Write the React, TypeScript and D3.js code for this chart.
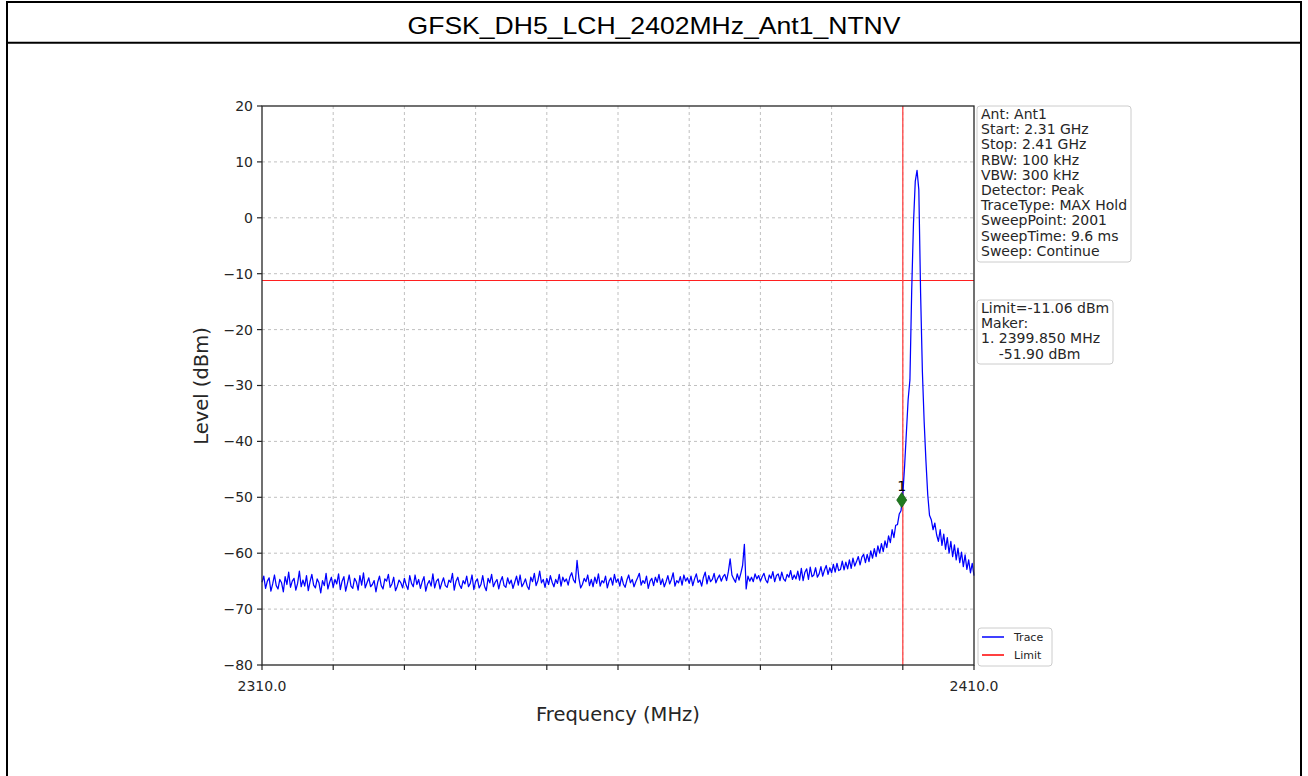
import React from 'react';
import * as d3 from 'd3';

const TITLE = 'GFSK_DH5_LCH_2402MHz_Ant1_NTNV';

// trace: 0.25 MHz steps from 2310 to 2410 MHz
const freqStart = 2310;
const freqStep = 0.25;
const traceLevels = [
  -65.2, -64.1, -66.3, -65.0, -64.4, -66.8, -65.5, -63.9, -65.8, -66.4, -64.7, -65.3, -66.9, -64.2, -65.6, -63.4, -66.1, -65.0, -64.5, -66.6,
  -65.4, -63.2, -66.0, -64.8, -65.9, -64.0, -66.7, -65.1, -63.8, -65.7, -66.2, -64.6, -65.3, -67.1, -64.9, -65.8, -63.6, -66.4, -65.2, -64.3,
  -66.1, -64.7, -65.5, -63.7, -66.5, -65.0, -64.2, -66.8, -65.4, -63.9, -65.9, -66.3, -64.5, -65.1, -66.6, -64.0, -65.7, -63.5, -66.2, -65.3,
  -64.4, -66.0, -65.6, -64.9, -66.9, -65.2, -64.1, -65.8, -66.4, -64.6, -65.0, -63.8, -66.1, -65.5, -64.3, -66.7, -65.9, -64.8, -65.3, -66.2,
  -64.5, -65.7, -66.5, -64.0, -65.4, -66.0, -63.9, -65.6, -64.7, -66.3, -65.1, -64.2, -66.8, -65.5, -64.9, -65.9, -63.7, -66.2, -65.0, -64.6,
  -66.4, -65.3, -64.4, -65.8, -66.1, -64.8, -65.2, -63.6, -66.6, -65.0, -64.3, -65.7, -66.3, -64.9, -65.5, -64.1, -66.0, -65.4, -63.9, -66.5,
  -65.1, -64.6, -66.2, -65.6, -64.0, -65.9, -66.7, -64.5, -65.3, -63.8, -66.0, -65.2, -64.7, -66.4, -65.0, -64.2, -65.8, -66.1, -64.4, -65.5,
  -64.8, -66.3, -65.2, -64.1, -65.7, -63.9, -66.0, -65.4, -64.6, -65.9, -66.5, -64.3, -65.1, -63.6, -65.8, -64.9, -63.2, -65.3, -64.7, -66.1,
  -64.5, -65.6, -64.0, -65.2, -66.0, -64.7, -65.4, -63.8, -65.9, -64.3, -65.1, -64.6, -65.7, -64.2, -63.5, -64.8, -65.3, -61.3, -64.4, -66.2,
  -65.6, -64.5, -65.1, -63.9, -65.8, -64.7, -66.0, -64.3, -65.4, -63.7, -65.9, -64.9, -65.3, -64.1, -66.2, -65.0, -64.4, -65.7, -63.8, -65.2,
  -64.6, -65.9, -64.2, -65.5, -66.1, -64.8, -63.9, -65.3, -64.7, -66.0, -65.1, -64.4, -63.6, -65.7, -64.9, -65.4, -64.1, -66.3, -65.0, -64.5,
  -65.8, -64.3, -65.2, -63.8, -65.6, -64.6, -66.0, -65.1, -64.0, -65.5, -64.7, -63.5, -65.9, -64.9, -65.3, -64.2, -65.7, -63.9, -65.0, -64.4,
  -65.4, -64.1, -65.8, -64.6, -63.7, -65.2, -64.8, -65.9, -64.3, -63.4, -65.5, -64.0, -65.1, -64.7, -63.6, -65.3, -64.5, -63.9, -65.0, -64.2,
  -63.8, -64.9, -63.3, -61.0, -63.9, -64.6, -65.2, -63.7, -64.8, -63.6, -62.2, -58.4, -66.4, -64.1, -65.0, -64.3, -65.1, -63.7, -64.6, -64.0,
  -65.0, -64.2, -63.6, -64.8, -65.3, -63.9, -64.5, -63.3, -65.1, -64.0, -63.7, -64.9, -63.4, -64.6, -65.0, -63.8, -64.3, -63.1, -64.7, -63.9,
  -64.6, -63.2, -64.8, -62.7, -64.9, -63.4, -62.8, -64.7, -62.5, -64.2, -63.9, -62.6, -64.3, -63.7, -62.4, -64.1, -63.0, -62.2, -63.8, -62.6,
  -63.5, -62.0, -63.4, -61.8, -63.1, -62.9, -61.4, -63.0, -61.6, -62.8, -61.2, -62.7, -60.9, -62.3, -61.5, -60.6, -62.1, -60.7, -60.2, -61.7,
  -60.2, -61.5, -59.6, -60.9, -59.2, -60.6, -58.7, -60.0, -58.3, -59.7, -57.8, -59.0, -56.9, -58.1, -55.8, -57.2, -55.0, -54.9, -53.0, -52.4,
  -49.5, -44.5, -38.5, -32.5, -29.0, -13.0, -1.0, 6.5, 8.5, 5.0, -13.5, -27.5, -36.5, -43.5, -49.5, -53.2, -54.0, -55.8, -54.6, -56.7,
  -57.9, -55.8, -58.6, -56.6, -59.3, -57.2, -60.0, -57.9, -60.6, -58.5, -61.2, -59.1, -61.7, -59.8, -62.4, -60.3, -62.9, -61.2, -63.5, -61.8,
  -64.0,
];

const limitLevel = -11.06;
const limitFreq = 2400;
const markerFreq = 2399.85;
const markerLevel = -50.5;

const xTicks = [2310, 2320, 2330, 2340, 2350, 2360, 2370, 2380, 2390, 2400, 2410];
const xTickLabels = ['2310.0', '', '', '', '', '', '', '', '', '', '2410.0'];
const yTicks = [20, 10, 0, -10, -20, -30, -40, -50, -60, -70, -80];

const infoLines = [
  'Ant: Ant1',
  'Start: 2.31 GHz',
  'Stop: 2.41 GHz',
  'RBW: 100 kHz',
  'VBW: 300 kHz',
  'Detector: Peak',
  'TraceType: MAX Hold',
  'SweepPoint: 2001',
  'SweepTime: 9.6 ms',
  'Sweep: Continue',
];
const markerLines = ['Limit=-11.06 dBm', 'Maker:', '1. 2399.850 MHz', '    -51.90 dBm'];
const legendItems = [
  { label: 'Trace', color: '#0000ff' },
  { label: 'Limit', color: '#ff0000' },
];

const W = 1308;
const H = 776;
const plot = { left: 262, right: 974, top: 106, bottom: 665 };
const sans = '"DejaVu Sans", sans-serif';

export default function App() {
  const x = d3.scaleLinear().domain([2310, 2410]).range([plot.left, plot.right]);
  const y = d3.scaleLinear().domain([-80, 20]).range([plot.bottom, plot.top]);

  const tracePts: [number, number][] = traceLevels.map((v, i) => [freqStart + i * freqStep, v]);
  const line = d3
    .line<[number, number]>()
    .x((d) => x(d[0]))
    .y((d) => y(d[1]));

  const mx = x(markerFreq);
  const my = y(markerLevel);
  const ly = Math.round(y(limitLevel)) + 0.5;
  const lx = x(limitFreq);

  return (
    <div style={{ position: 'absolute', left: 0, top: 0 }}>
      <svg width={W} height={H} style={{ display: 'block', background: '#fff' }}>
        {/* outer frame + title row */}
        <rect x={7} y={2} width={1294} height={H + 10} fill="none" stroke="#000" strokeWidth={2} />
        <line x1={7} x2={1301} y1={42.7} y2={42.7} stroke="#000" strokeWidth={2} />
        <text
          x={654}
          y={34}
          textAnchor="middle"
          fontFamily='"Liberation Sans", Arial, sans-serif'
          fontSize={24}
          textLength={493}
          lengthAdjust="spacingAndGlyphs"
        >
          {TITLE}
        </text>

        {/* grid */}
        <g stroke="#b0b0b0" strokeWidth={0.8} strokeDasharray="3,3">
          {xTicks.slice(1, -1).map((t) => (
            <line key={'gx' + t} x1={x(t)} x2={x(t)} y1={plot.top} y2={plot.bottom} />
          ))}
          {yTicks.slice(1, -1).map((t) => (
            <line key={'gy' + t} x1={plot.left} x2={plot.right} y1={y(t)} y2={y(t)} />
          ))}
        </g>

        {/* limit lines */}
        <line x1={plot.left} x2={plot.right} y1={ly} y2={ly} stroke="#ff2020" strokeWidth={1} />
        <line x1={lx} x2={lx} y1={plot.top} y2={plot.bottom} stroke="#ff4545" strokeWidth={1.3} />

        {/* trace */}
        <path d={line(tracePts) || ''} fill="none" stroke="#0000ff" strokeWidth={1.25} strokeLinejoin="round" />

        {/* marker */}
        <path
          d={`M${mx},${my - 7.5}L${mx + 5},${my}L${mx},${my + 7.5}L${mx - 5},${my}Z`}
          fill="#1f7a1f"
          stroke="#166016"
          strokeWidth={0.8}
        />
        <text x={mx} y={my - 9} textAnchor="middle" fontFamily={sans} fontSize={14} fill="#000">
          1
        </text>

        {/* spines */}
        <rect
          x={plot.left}
          y={plot.top}
          width={plot.right - plot.left}
          height={plot.bottom - plot.top}
          fill="none"
          stroke="#262626"
          strokeWidth={1.3}
        />

        {/* x ticks */}
        {xTicks.map((t, i) => (
          <g key={'xt' + t}>
            <line x1={x(t)} x2={x(t)} y1={plot.bottom} y2={plot.bottom + 5} stroke="#262626" strokeWidth={1.2} />
            {xTickLabels[i] && (
              <text x={x(t)} y={plot.bottom + 26} textAnchor="middle" fontFamily={sans} fontSize={14} fill="#262626">
                {xTickLabels[i]}
              </text>
            )}
          </g>
        ))}

        {/* y ticks */}
        {yTicks.map((t) => (
          <g key={'yt' + t}>
            <line x1={plot.left - 5} x2={plot.left} y1={y(t)} y2={y(t)} stroke="#262626" strokeWidth={1.2} />
            <text
              x={plot.left - 9}
              y={y(t)}
              dy="0.35em"
              textAnchor="end"
              fontFamily={sans}
              fontSize={14}
              fill="#262626"
            >
              {t < 0 ? '\u2212' + Math.abs(t) : String(t)}
            </text>
          </g>
        ))}

        {/* axis titles */}
        <text x={618} y={721} textAnchor="middle" fontFamily={sans} fontSize={19.5} fill="#262626">
          Frequency (MHz)
        </text>
        <text
          transform="translate(208,386) rotate(-90)"
          textAnchor="middle"
          fontFamily={sans}
          fontSize={19.5}
          fill="#262626"
        >
          Level (dBm)
        </text>

        {/* info box */}
        <rect x={977} y={106} width={154} height={156} rx={3} fill="#fff" stroke="#cccccc" strokeWidth={1} />
        {infoLines.map((s, i) => (
          <text key={s} x={981} y={119 + i * 15.2} fontFamily={sans} fontSize={14} fill="#262626">
            {s}
          </text>
        ))}

        {/* limit / marker box */}
        <rect x={977} y={300} width={136} height={64} rx={3} fill="#fff" stroke="#cccccc" strokeWidth={1} />
        {markerLines.map((s, i) => (
          <text
            key={s}
            x={981}
            y={313 + i * 15.2}
            fontFamily={sans}
            fontSize={14}
            fill="#262626"
            style={{ whiteSpace: 'pre' }}
          >
            {s}
          </text>
        ))}

        {/* legend */}
        <rect x={978} y={628} width={74} height={38} rx={3} fill="#fff" stroke="#cccccc" strokeWidth={1} />
        {legendItems.map((d, i) => (
          <g key={d.label}>
            <line x1={982} x2={1004} y1={637 + i * 18} y2={637 + i * 18} stroke={d.color} strokeWidth={1.5} />
            <text x={1014} y={637 + i * 18} dy="0.35em" fontFamily={sans} fontSize={11} fill="#262626">
              {d.label}
            </text>
          </g>
        ))}
      </svg>
    </div>
  );
}
